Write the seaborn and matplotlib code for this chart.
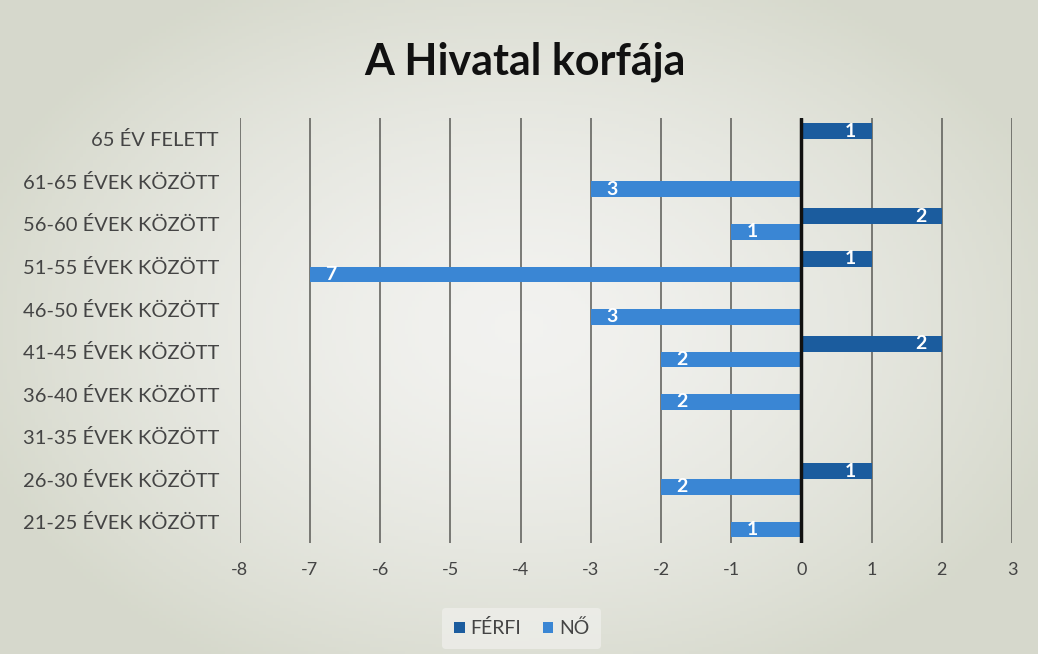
import numpy as np
import pandas as pd
import matplotlib
matplotlib.use("Agg")
import matplotlib.pyplot as plt
import seaborn as sns

# %% Data
age_groups = ["65 ÉV FELETT", "61-65 ÉVEK KÖZÖTT", "56-60 ÉVEK KÖZÖTT", "51-55 ÉVEK KÖZÖTT",
              "46-50 ÉVEK KÖZÖTT", "41-45 ÉVEK KÖZÖTT", "36-40 ÉVEK KÖZÖTT", "31-35 ÉVEK KÖZÖTT",
              "26-30 ÉVEK KÖZÖTT", "21-25 ÉVEK KÖZÖTT"]
ferfi = [1, 0, 2, 1, 0, 2, 0, 0, 1, 0]
no = [0, 3, 1, 7, 3, 2, 2, 0, 2, 1]
series = ["FÉRFI", "NŐ"]
xticks = list(range(-8, 4))

BG = "#dfe0d6"
COLORS = {"FÉRFI": "#1b5c9e", "NŐ": "#3a86d4"}

df = pd.DataFrame({
    "age": age_groups * 2,
    "value": ferfi + [-v for v in no],
    "sex": [series[0]] * len(ferfi) + [series[1]] * len(no),
})

sns.set_theme(style="white")
plt.rcParams["font.family"] = ["Lato", "DejaVu Sans"]

fig = plt.figure(figsize=(10.38, 6.54), dpi=100, facecolor=BG)

# soft vignette like the scanned slide background
bg_ax = fig.add_axes([0, 0, 1, 1], zorder=-10)
gx, gy = np.meshgrid(np.linspace(-1, 1, 300), np.linspace(-1, 1, 200))
r = np.clip(np.sqrt((gx / 1.1) ** 2 + (gy / 1.2) ** 2), 0, 1)
c0 = np.array([0.95, 0.95, 0.94])
c1 = np.array([0.84, 0.85, 0.80])
img = c0 + (c1 - c0) * r[..., None] ** 1.5
bg_ax.imshow(img, extent=[0, 1, 0, 1], aspect="auto")
bg_ax.axis("off")

ax = fig.add_axes([0.231, 0.170, 0.744, 0.650])
ax.set_facecolor("none")

sns.barplot(data=df, x="value", y="age", hue="sex", order=age_groups, hue_order=series,
            palette=COLORS, orient="h", width=0.74, dodge=True, saturation=1,
            linewidth=0, edgecolor="none", ax=ax, legend=True)

ax.set_xlim(-8, 3)
ax.set_xticks(xticks)
ax.set_xticklabels([str(t) for t in xticks], fontsize=13, color="#444444")
ax.tick_params(axis="y", labelsize=14.5, colors="#444444", length=0, pad=15)
ax.tick_params(axis="x", length=0, pad=14)
ax.set_xlabel("")
ax.set_ylabel("")
for s in ax.spines.values():
    s.set_visible(False)

# vertical gridlines + zero axis
for t in xticks:
    if t != 0:
        ax.axvline(t, color="#5a5a56", lw=1.1, zorder=0)
ax.axvline(0, color="#111111", lw=2.5, zorder=3)

# value labels inside bar ends
for name in series:
    vals = ferfi if name == "FÉRFI" else no
    offset = -0.185 if name == "FÉRFI" else 0.185
    for j, v in enumerate(vals):
        if v == 0:
            continue
        xv = v if name == "FÉRFI" else -v
        xpos = xv - 0.3 if xv > 0 else xv + 0.3
        ax.text(xpos, j + offset, str(v), color="white", fontsize=14, fontweight="bold",
                ha="center", va="center", zorder=4)

leg = ax.legend(loc="upper center", bbox_to_anchor=(0.365, -0.13), ncol=2, frameon=True,
                fontsize=14, handlelength=0.55, handleheight=0.55, handletextpad=0.3,
                columnspacing=1.1, borderpad=0.6)
leg.get_frame().set_facecolor("#eeeeea")
leg.get_frame().set_edgecolor("none")
for txt in leg.get_texts():
    txt.set_color("#444444")

fig.text(0.506, 0.905, "A Hivatal korfája", ha="center", va="center",
         fontsize=31, fontweight="bold", color="#111111")

fig.savefig("out.png", dpi=100, facecolor=BG)
